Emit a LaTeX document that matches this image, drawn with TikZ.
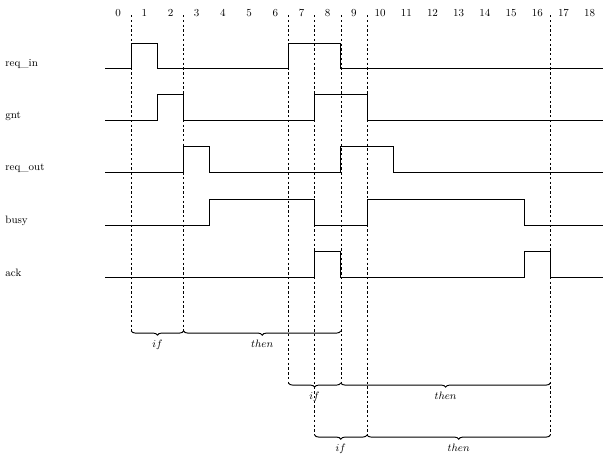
\documentclass[tikz,border=0pt]{standalone}
\usepackage{amsmath}
\usetikzlibrary{decorations.pathreplacing}

\tikzset{
  wave/.style={line width=0.6},
  guide/.style={dashed, line width=0.5, dash pattern=on 2pt off 2pt},
  phase/.style={decorate, decoration={brace, mirror, amplitude=3.5pt}, line width=0.8},
  sig/.style={anchor=west, inner sep=0pt},
}

\begin{document}
\begin{tikzpicture}[x=22.008pt, y=-0.84pt]
\useasboundingbox (-4.008,0) rectangle (19.313,465);

% step numbers
\foreach \k in {0,...,18}
  \node (num\k) at (\k+.5,13) {\small$\k$};

% signal names
\node[sig] (reqin)  at (-3.81,64)  {\small req\_in};
\node[sig] (gnt)    at (-3.81,116) {\small gnt};
\node[sig] (reqout) at (-3.81,168) {\small req\_out};
\node[sig] (busy)   at (-3.81,221) {\small busy};
\node[sig] (ack)    at (-3.81,273) {\small ack};

% waveforms
\draw[wave] (0,68) -- (1,68) -- (1,43) -- (2,43) -- (2,68) -- (7,68)
  -- (7,43) -- (9,43) -- (9,68) -- (19,68);
\draw[wave] (0,120) -- (2,120) -- (2,94) -- (3,94) -- (3,120) -- (8,120)
  -- (8,94) -- (10,94) -- (10,120) -- (19,120);
\draw[wave] (0,172) -- (3,172) -- (3,146) -- (4,146) -- (4,172) -- (9,172)
  -- (9,146) -- (11,146) -- (11,172) -- (19,172);
\draw[wave] (0,225) -- (4,225) -- (4,199) -- (8,199) -- (8,225) -- (10,225)
  -- (10,199) -- (16,199) -- (16,225) -- (19,225);
\draw[wave] (0,277) -- (8,277) -- (8,251) -- (9,251) -- (9,277) -- (16,277)
  -- (16,251) -- (17,251) -- (17,277) -- (19,277);

% guides down to the braces
\foreach \k/\bot in {1/331, 3/331, 7/383, 8/435, 9/383, 10/435, 17/435}
  \draw[guide] (\k,15) -- (\k,\bot);

% first transaction
\coordinate (a1) at (1,331);
\coordinate (a3) at (3,331);
\coordinate (a9) at (9,331);
\draw[phase] (a1) -- (a3) node[midway, below=4pt] (if1) {\small$if$};
\draw[phase] (a3) -- (a9) node[midway, below=4pt] (then1) {\small$then$};

% second transaction
\coordinate (b7) at (7,383);
\coordinate (b9) at (9,383);
\coordinate (b17) at (17,383);
\draw[phase] (b7) -- (b9) node[midway, below=4pt] (if2) {\small$if$};
\draw[phase] (b9) -- (b17) node[midway, below=4pt] (then2) {\small$then$};

% third transaction
\coordinate (c8) at (8,435);
\coordinate (c10) at (10,435);
\coordinate (c17) at (17,435);
\draw[phase] (c8) -- (c10) node[midway, below=4pt] (if3) {\small$if$};
\draw[phase] (c10) -- (c17) node[midway, below=4pt] (then3) {\small$then$};
\end{tikzpicture}
\end{document}
